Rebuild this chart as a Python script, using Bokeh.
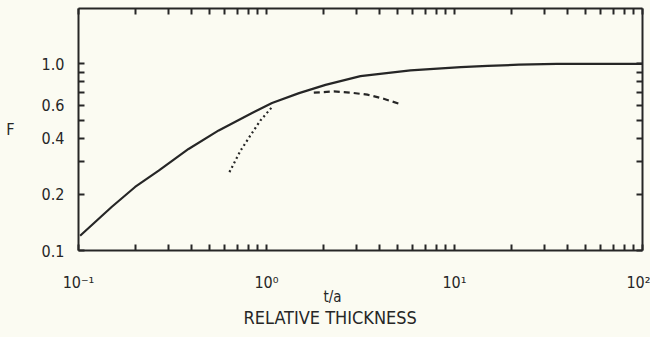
from bokeh.plotting import figure
from bokeh.models import LogAxis, FixedTicker, Title, CustomJSTickFormatter, Range1d
from bokeh.embed import file_html
from bokeh.resources import INLINE

# ---- data ----
t_solid = [0.102, 0.150, 0.200, 0.267, 0.385, 0.557, 0.838, 1.07, 1.49, 2.06, 3.16, 5.83, 10.8, 15, 22, 35, 60, 100]
F_solid = [0.120, 0.171, 0.219, 0.268, 0.350, 0.440, 0.545, 0.617, 0.697, 0.772, 0.86, 0.923, 0.96, 0.975, 0.99, 1.0, 1.0, 1.0]

t_dotted = [0.635, 0.728, 0.822, 0.929, 1.07]
F_dotted = [0.263, 0.343, 0.414, 0.498, 0.587]

t_dashed = [1.785, 2.28, 2.8, 3.44, 4.2, 5.06]
F_dashed = [0.701, 0.712, 0.701, 0.684, 0.65, 0.612]

x_major = [0.1, 1, 10, 100]
x_minor = [0.2, 0.3, 0.4, 0.5, 0.6, 0.7, 0.8, 0.9,
           2, 3, 4, 5, 6, 7, 8, 9,
           20, 30, 40, 50, 60, 70, 80, 90]
x_labels = {0.1: "10⁻¹", 1: "10⁰", 10: "10¹", 100: "10²"}

y_major = [0.1, 0.2, 0.4, 0.6, 1.0]
y_minor = [0.3, 0.5, 0.7, 0.8, 0.9]
y_labels = {0.1: "0.1", 0.2: "0.2", 0.4: "0.4", 0.6: "0.6", 1.0: "1.0"}

BG = "#fbfbf2"
INK = "#262626"
FONT = "DejaVu Sans Condensed, Liberation Sans, sans-serif"

p = figure(width=650, height=337, x_axis_type="log", y_axis_type="log",
           x_range=Range1d(0.1, 100), y_range=Range1d(0.1, 1.98),
           output_backend="svg", toolbar_location=None,
           min_border_left=78, min_border_right=8, min_border_top=8, min_border_bottom=87,
           background_fill_color=BG, border_fill_color=BG)
p.outline_line_color = None
p.xgrid.visible = False
p.ygrid.visible = False

def style(ax):
    ax.axis_line_color = INK
    ax.axis_line_width = 2
    ax.major_tick_line_color = INK
    ax.minor_tick_line_color = INK
    ax.major_tick_line_width = 2
    ax.minor_tick_line_width = 2
    ax.major_tick_in = 6
    ax.major_tick_out = 0
    ax.minor_tick_in = 6
    ax.minor_tick_out = 0
    ax.major_label_text_font = FONT
    ax.major_label_text_font_size = "16px"
    ax.major_label_text_color = INK

xa = p.xaxis[0]
xa.ticker = FixedTicker(ticks=x_major, minor_ticks=x_minor)
xa.major_label_overrides = x_labels
xa.major_label_standoff = 22
style(xa)

ya = p.yaxis[0]
ya.ticker = FixedTicker(ticks=y_major, minor_ticks=y_minor)
ya.major_label_overrides = y_labels
ya.major_label_standoff = 14
style(ya)
ya.axis_label = "F"
ya.axis_label_orientation = "horizontal"
ya.axis_label_standoff = 24
ya.axis_label_text_font = FONT
ya.axis_label_text_font_size = "16px"
ya.axis_label_text_font_style = "normal"
ya.axis_label_text_color = INK

blank = CustomJSTickFormatter(code="return '';")
top = LogAxis(ticker=FixedTicker(ticks=x_major, minor_ticks=x_minor), formatter=blank,
              major_label_standoff=0)
style(top)
top.major_label_text_font_size = "1px"
p.add_layout(top, "above")
right = LogAxis(ticker=FixedTicker(ticks=y_major, minor_ticks=y_minor), formatter=blank,
                major_label_standoff=0)
style(right)
right.major_label_text_font_size = "1px"
p.add_layout(right, "right")

p.line(t_solid, F_solid, line_color=INK, line_width=2.2)
p.line(t_dotted, F_dotted, line_color=INK, line_width=2.2, line_dash="2 3")
p.line(t_dashed, F_dashed, line_color=INK, line_width=2.2, line_dash="6 4")

p.add_layout(Title(text="t/a", align="left", offset=245, standoff=-18,
                   text_font=FONT, text_font_size="15px", text_font_style="normal",
                   text_color=INK), "below")
p.add_layout(Title(text="RELATIVE THICKNESS", align="left", offset=165, standoff=17,
                   text_font=FONT, text_font_size="18px", text_font_style="normal",
                   text_color=INK), "below")

html = file_html(p, INLINE)
html = html.replace("</head>", "<style>html,body{background:%s;}</style></head>" % BG, 1)
open("out.html", "w").write(html)
